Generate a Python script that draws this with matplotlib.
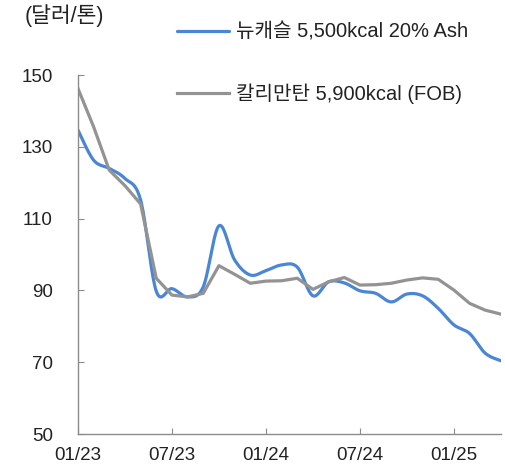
import numpy as np
from matplotlib import pyplot as plt

plt.rcParams['font.family'] = ['Liberation Sans', 'Noto Sans CJK KR', 'DejaVu Sans']

# monthly, 01/23 .. 04/25
months = np.arange(28)
tick_pos = [0, 6, 12, 18, 24]
tick_labels = ["01/23", "07/23", "01/24", "07/24", "01/25"]

newcastle = [134.7, 126.3, 124.0, 121.2, 115.2, 89.8, 90.5, 88.2, 91.0, 108.0,
             98.5, 94.3, 95.5, 97.1, 96.5, 88.5, 92.4, 92.1, 89.9, 89.2,
             86.8, 89.0, 88.5, 85.0, 80.4, 78.0, 72.5, 70.4]
kalimantan = [146.3, 135.6, 123.5, 119.2, 114.1, 93.4, 88.7, 88.2, 89.2, 96.9,
              94.5, 92.0, 92.6, 92.7, 93.4, 90.3, 92.4, 93.6, 91.5, 91.6,
              92.0, 92.9, 93.5, 93.1, 90.1, 86.4, 84.5, 83.4]

BLUE = "#4a86d6"
GRAY = "#939393"


def smooth(x, y, n=20):
    # excel style smoothed line (catmull-rom)
    x = np.asarray(x, float)
    y = np.asarray(y, float)
    px = np.concatenate([[x[0]], x, [x[-1]]])
    py = np.concatenate([[y[0]], y, [y[-1]]])
    xs, ys = [], []
    t = np.linspace(0, 1, n, endpoint=False)
    for i in range(1, len(px) - 2):
        p0, p1, p2, p3 = px[i-1], px[i], px[i+1], px[i+2]
        q0, q1, q2, q3 = py[i-1], py[i], py[i+1], py[i+2]
        c1x, c1y = p1 + (p2 - p0) / 6, q1 + (q2 - q0) / 6
        c2x, c2y = p2 - (p3 - p1) / 6, q2 - (q3 - q1) / 6
        b0 = (1-t)**3
        b1 = 3*(1-t)**2*t
        b2 = 3*(1-t)*t**2
        b3 = t**3
        xs.append(b0*p1 + b1*c1x + b2*c2x + b3*p2)
        ys.append(b0*q1 + b1*c1y + b2*c2y + b3*q2)
    xs.append([x[-1]])
    ys.append([y[-1]])
    return np.concatenate(xs), np.concatenate(ys)


fig = plt.figure(figsize=(5.06, 4.68), dpi=100)
ax = fig.add_axes([0.154, 0.0726, 0.836, 0.767])

sx, sy = smooth(months, newcastle)
ax.plot(sx, sy, color=BLUE, lw=2.3, label="뉴캐슬 5,500kcal 20% Ash", solid_capstyle='round')
ax.plot(months, kalimantan, color=GRAY, lw=2.3, label="칼리만탄 5,900kcal (FOB)", solid_joinstyle='round')

ax.set_xlim(0, 27)
ax.set_ylim(50, 150)
ax.set_yticks([50, 70, 90, 110, 130, 150])
ax.set_xticks(tick_pos)
ax.set_xticklabels(tick_labels)

for s in ["top", "right"]:
    ax.spines[s].set_visible(False)
for s in ["left", "bottom"]:
    ax.spines[s].set_color("#8c8c8c")
    ax.spines[s].set_linewidth(1.0)
ax.tick_params(axis='y', direction='in', length=4, color="#8c8c8c", pad=18, labelsize=13.5, labelcolor="#222222")
ax.tick_params(axis='x', direction='in', length=4, color="#8c8c8c", pad=9, labelsize=13.5, labelcolor="#222222")

fig.text(0.048, 0.967, "(달러/톤)", fontsize=15.5, color="#222222", va='center', ha='left')

fig.legend(loc='upper left', bbox_to_anchor=(0.313, 0.99), frameon=False, fontsize=14.5,
           handlelength=2.6, handletextpad=0.35, labelspacing=2.05, labelcolor="#222222")

fig.savefig("out.png", dpi=100)
